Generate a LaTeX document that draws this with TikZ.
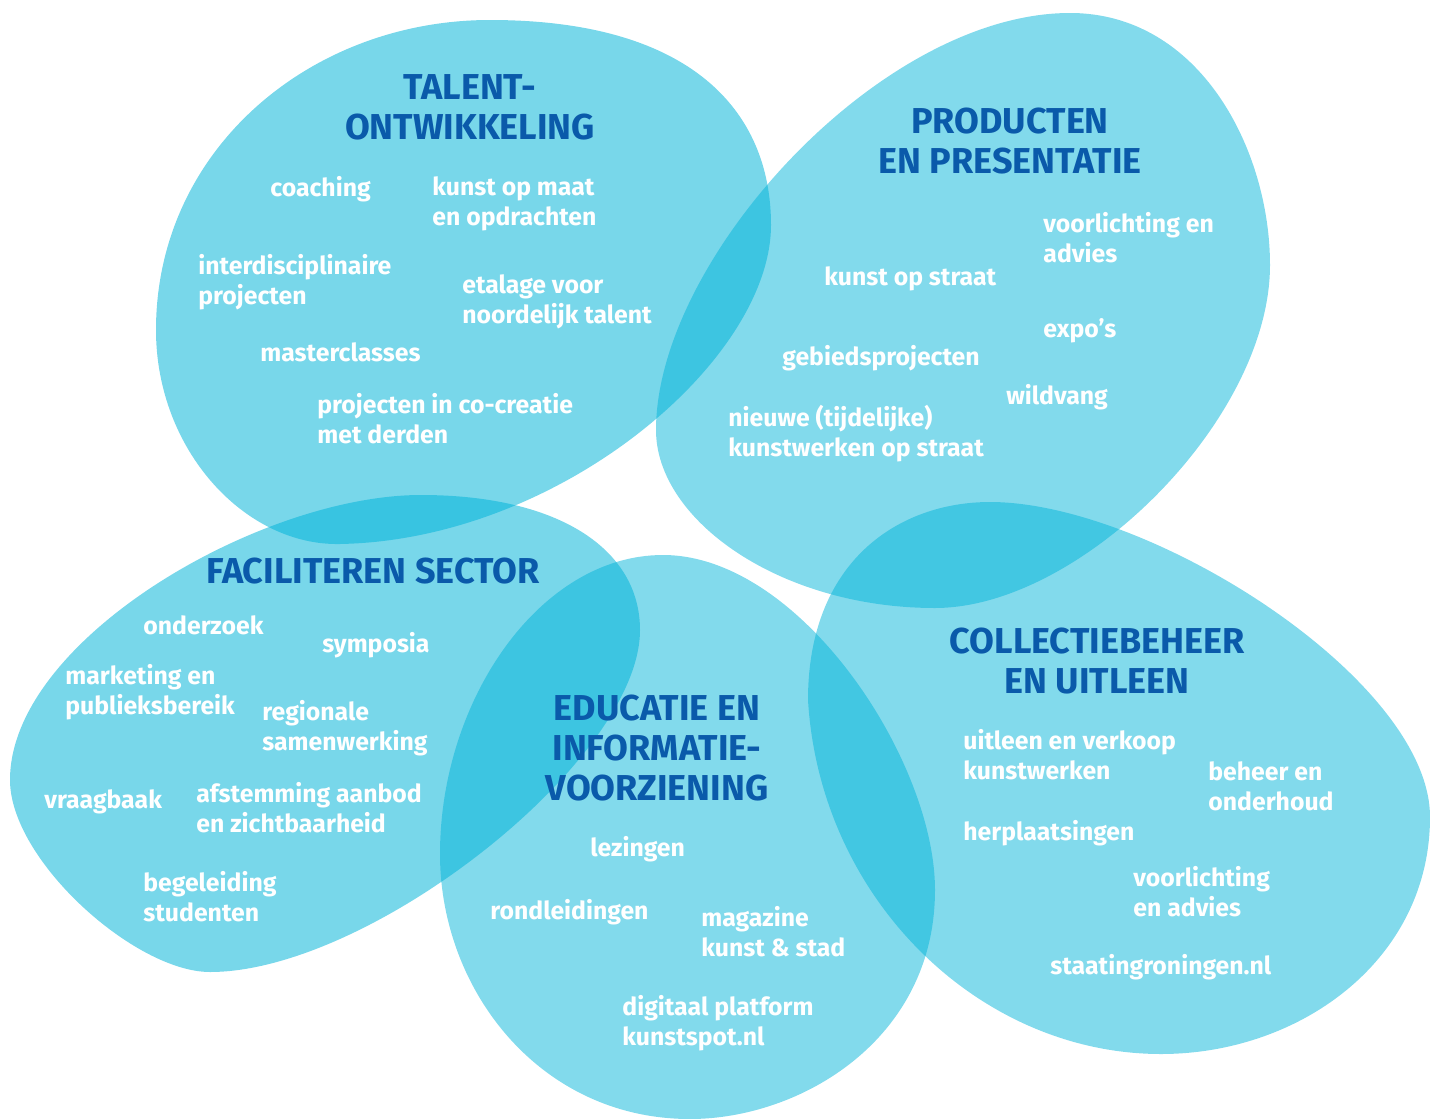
\documentclass[tikz,border=0pt]{standalone}
\usepackage{fontspec}
\setmainfont{Fira Sans}
\usetikzlibrary{positioning}
\definecolor{blobcyan}{HTML}{00B3D8}
\definecolor{headblue}{HTML}{0A5AAA}
\tikzset{
  % the five translucent fields
  blob/.style={fill=blobcyan, fill opacity=0.49, draw=none},
  darkblob/.style={blob, fill opacity=0.53},
  % white activity labels and blue field titles
  item/.style={font=\bfseries\fontsize{12.4}{15}\selectfont, text=white,
    align=left, anchor=base west, inner sep=0pt},
  head/.style={font=\bfseries\fontsize{18}{20}\selectfont, text=headblue,
    align=center, anchor=base, inner sep=0pt},
}

\begin{document}
\begin{tikzpicture}[x=0.5pt, y=-0.5pt]
  \useasboundingbox (0,0) rectangle (1430,1119);
  % fields
  \fill[darkblob] (156,330) .. controls (156,150) and (310,20) .. (490,20)
    .. controls (690,20) and (771,110) .. (771,225)
    .. controls (771,360) and (560,540) .. (340,544)
    .. controls (245,546) and (156,450) .. (156,330) -- cycle;
  \fill[blob] (1070,13) .. controls (1200,13) and (1270,150) .. (1270,265)
    .. controls (1270,420) and (1080,608) .. (935,608)
    .. controls (780,608) and (656,520) .. (656,430)
    .. controls (656,260) and (880,13) .. (1070,13) -- cycle;
  \fill[darkblob] (10,780) .. controls (10,640) and (260,495) .. (421,495)
    .. controls (560,495) and (640,550) .. (640,630)
    .. controls (640,760) and (370,972) .. (210,972)
    .. controls (135,972) and (10,860) .. (10,780) -- cycle;
  \fill[blob] (663,555) .. controls (800,555) and (935,760) .. (935,890)
    .. controls (935,1040) and (800,1119) .. (690,1119)
    .. controls (540,1119) and (440,990) .. (440,854)
    .. controls (440,700) and (540,555) .. (663,555) -- cycle;
  \fill[blob] (808,700) .. controls (808,560) and (900,502) .. (990,502)
    .. controls (1150,502) and (1430,680) .. (1430,817)
    .. controls (1430,960) and (1300,1054) .. (1161,1054)
    .. controls (980,1054) and (820,900) .. (808,700) -- cycle;

  % talentontwikkeling
  \node[head] (talent) at (470,139) {TALENT-\\ONTWIKKELING};
  \node[item] (coaching) at (270,196) {coaching};
  \node[item] (maat) at (432,225) {kunst op maat\\en opdrachten};
  \node[item] (inter) at (198,304) {interdisciplinaire\\projecten};
  \node[item] (etalage) at (462,323) {etalage voor\\noordelijk talent};
  \node[item] (master) at (260,361) {masterclasses};
  \node[item] (cocreatie) at (317,443) {projecten in co-creatie\\met derden};

  % producten en presentatie
  \node[head] (producten) at (1010,173) {PRODUCTEN\\EN PRESENTATIE};
  \node[item] (voorl1) at (1043,262) {voorlichting en\\advies};
  \node[item] (straat) at (824,285) {kunst op straat};
  \node[item] (expo) at (1043,337) {expo’s};
  \node[item] (gebied) at (782,365) {gebiedsprojecten};
  \node[item] (wildvang) at (1006,404) {wildvang};
  \node[item] (nieuwe) at (728,456) {nieuwe (tijdelijke)\\kunstwerken op straat};

  % faciliteren sector
  \node[head] (facil) at (373,583) {FACILITEREN SECTOR};
  \node[item] (onderzoek) at (143,634) {onderzoek};
  \node[item] (symposia) at (322,652) {symposia};
  \node[item] (marketing) at (65,714) {marketing en\\publieksbereik};
  \node[item] (regio) at (262,750) {regionale\\samenwerking};
  \node[item] (vraagbaak) at (44,808) {vraagbaak};
  \node[item] (afstem) at (196,832) {afstemming aanbod\\en zichtbaarheid};
  \node[item] (begel) at (143,921) {begeleiding\\studenten};

  % educatie en informatievoorziening
  \node[head] (educatie) at (657,800) {EDUCATIE EN\\INFORMATIE-\\VOORZIENING};
  \node[item] (lezingen) at (590,856) {lezingen};
  \node[item] (rond) at (490,919) {rondleidingen};
  \node[item] (magazine) at (701,956) {magazine\\kunst \& stad};
  \node[item] (digitaal) at (622,1045) {digitaal platform\\kunstspot.nl};

  % collectiebeheer en uitleen
  \node[head] (collectie) at (1097,693) {COLLECTIEBEHEER\\EN UITLEEN};
  \node[item] (uitleen) at (963,779) {uitleen en verkoop\\kunstwerken};
  \node[item] (beheer) at (1208,810) {beheer en\\onderhoud};
  \node[item] (herpl) at (963,840) {herplaatsingen};
  \node[item] (voorl2) at (1133,916) {voorlichting\\en advies};
  \node[item] (staat) at (1050,974) {staatingroningen.nl};
\end{tikzpicture}
\end{document}
